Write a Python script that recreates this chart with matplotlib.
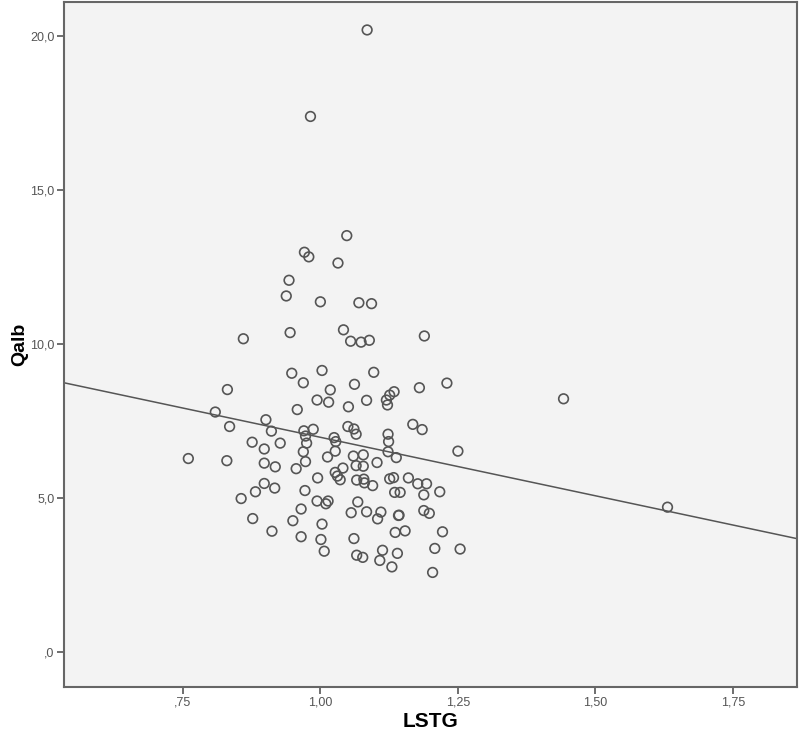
import numpy as np
import matplotlib.pyplot as plt

# LSTG / Qalb values
lstg = [1.085, 0.982, 1.048, 0.971, 0.979, 1.032, 0.943, 0.938, 1.000, 1.070,
        1.093, 0.860, 0.945, 1.042, 1.055, 1.074, 1.089, 1.189, 0.948, 1.003,
        1.097, 0.969, 1.062, 1.180, 1.230, 0.831, 1.018, 0.994, 1.015, 1.084,
        1.051, 1.120, 1.126, 1.134, 1.122, 0.958, 0.809, 0.835, 0.901, 0.911,
        0.970, 0.987, 0.973, 0.975, 0.876, 0.927, 0.898, 0.969, 1.050, 1.061,
        1.065, 1.168, 1.185, 1.025, 1.028, 1.123, 1.124, 1.027, 1.123, 1.250,
        0.760, 0.830, 1.013, 1.060, 1.078, 1.138, 0.898, 0.918, 0.956, 0.973,
        1.065, 1.078, 1.103, 1.027, 1.031, 1.036, 1.041, 0.995, 0.898, 0.917,
        0.882, 0.856, 0.972, 1.066, 1.079, 1.080, 1.095, 1.126, 1.133, 1.160,
        1.177, 1.193, 1.135, 1.145, 1.188, 1.217, 0.994, 1.010, 1.014, 1.068,
        0.965, 1.056, 1.084, 1.104, 1.110, 1.142, 1.143, 1.188, 1.198, 0.877,
        0.950, 1.003, 1.136, 1.154, 1.222, 0.912, 0.965, 1.001, 1.061, 1.007,
        1.066, 1.077, 1.113, 1.108, 1.140, 1.130, 1.208, 1.254, 1.204, 1.442,
        1.631]
qalb = [20.19, 17.38, 13.51, 12.97, 12.82, 12.62, 12.06, 11.55, 11.36, 11.33,
        11.30, 10.16, 10.36, 10.45, 10.08, 10.05, 10.11, 10.25, 9.04, 9.13,
        9.07, 8.73, 8.68, 8.57, 8.72, 8.51, 8.50, 8.17, 8.10, 8.16,
        7.95, 8.17, 8.33, 8.44, 8.01, 7.86, 7.78, 7.31, 7.53, 7.16,
        7.17, 7.22, 7.00, 6.77, 6.80, 6.77, 6.58, 6.49, 7.31, 7.23,
        7.06, 7.38, 7.21, 6.95, 6.82, 7.06, 6.82, 6.51, 6.49, 6.51,
        6.27, 6.20, 6.32, 6.35, 6.39, 6.30, 6.12, 6.00, 5.94, 6.17,
        6.04, 6.02, 6.14, 5.82, 5.70, 5.58, 5.96, 5.64, 5.46, 5.31,
        5.19, 4.97, 5.23, 5.57, 5.60, 5.48, 5.39, 5.61, 5.65, 5.64,
        5.45, 5.45, 5.17, 5.17, 5.09, 5.19, 4.89, 4.80, 4.89, 4.86,
        4.63, 4.51, 4.54, 4.31, 4.53, 4.42, 4.43, 4.58, 4.49, 4.32,
        4.25, 4.14, 3.87, 3.92, 3.89, 3.91, 3.73, 3.64, 3.67, 3.26,
        3.13, 3.06, 3.29, 2.96, 3.19, 2.75, 3.35, 3.33, 2.57, 8.21,
        4.69]

# regression line
intercept = 10.76
slope = -3.80

x_ticks = [0.75, 1.00, 1.25, 1.50, 1.75]
x_labels = [',75', '1,00', '1,25', '1,50', '1,75']
y_ticks = [0, 5, 10, 15, 20]
y_labels = [',0', '5,0', '10,0', '15,0', '20,0']

plt.rcParams['font.family'] = ['Liberation Sans', 'DejaVu Sans']

fig = plt.figure(figsize=(8, 7.43), dpi=100)
ax = fig.add_axes([0.08, 0.0754, 0.916, 0.922])
ax.set_facecolor('#f3f3f3')

ax.scatter(lstg, qalb, s=48, facecolors='none', edgecolors='#555555',
           linewidths=1.2, zorder=3)

xl = (0.534, 1.866)
xs = np.array(xl)
ax.plot(xs, intercept + slope * xs, color='#555555', lw=1.1, zorder=2)

ax.set_xlim(xl)
ax.set_ylim(-1.15, 21.1)

ax.set_xticks(x_ticks)
ax.set_xticklabels(x_labels)
ax.set_yticks(y_ticks)
ax.set_yticklabels(y_labels)
ax.tick_params(direction='out', length=5, width=1.2, color='#555555',
               labelcolor='#555555', labelsize=9, pad=2)

for sp in ax.spines.values():
    sp.set_color('#666666')
    sp.set_linewidth(1.5)

ax.set_xlabel('LSTG', fontsize=15, fontweight='bold')
ax.set_ylabel('Qalb', fontsize=14, fontweight='bold')
ax.xaxis.set_label_coords(0.5, -0.051)
ax.yaxis.set_label_coords(-0.06, 0.5)
ax.xaxis.label.set_va('center')
ax.yaxis.label.set_va('center')

fig.savefig('out.png', dpi=100)
